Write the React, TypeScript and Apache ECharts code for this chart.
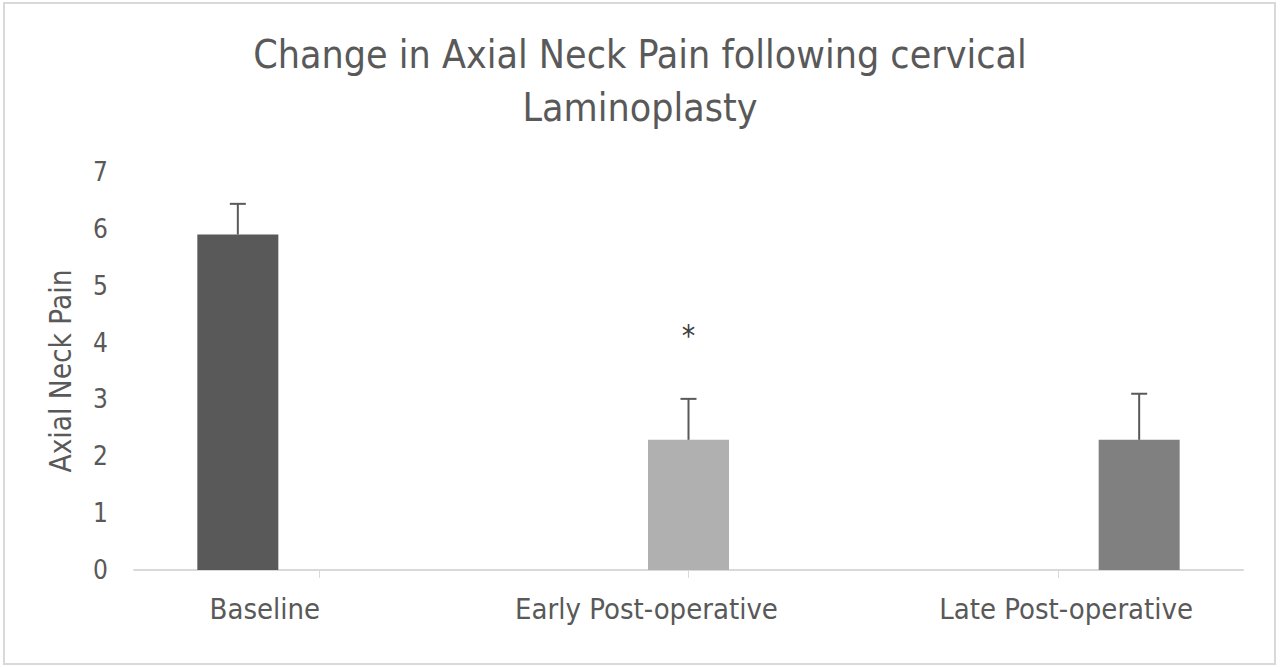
import React, { useEffect, useRef } from "react";
import * as echarts from "echarts";

const titleText = "Change in Axial Neck Pain following cervical\nLaminoplasty";
const yAxisName = "Axial Neck Pain";
const categories = ["Baseline", "Early Post-operative", "Late Post-operative"];
const meanValues = [5.9, 2.29, 2.29];
const errorValues = [0.54, 0.72, 0.81];
const barColors = ["#595959", "#b0b0b0", "#808080"];
const significanceMarks = ["", "*", ""];
const significanceY = 4.12;
const yTicks = { min: 0, max: 7, interval: 1 };

const FONT = "'Liberation Sans Narrow', 'DejaVu Sans Condensed', 'Open Sans', sans-serif";
const TEXT = "#595959";
const BAR_W = 81;
// horizontal nudges (px) of the category labels, as placed in the reference
const LABEL_SHIFT = [-54, -42, 8];

export default function App() {
  const ref = useRef<HTMLDivElement>(null);
  useEffect(() => {
    if (!ref.current) return;
    const chart = echarts.init(ref.current, null, { renderer: "svg" });
    const n = categories.length;
    const barSeries = categories.map((name, i) => ({
      name,
      type: "bar",
      barWidth: BAR_W,
      barGap: "0%",
      itemStyle: { color: barColors[i] },
      data: categories.map((_, j) => (j === i ? meanValues[i] : "-")),
      markPoint: significanceMarks[i]
        ? {
            symbol: "circle",
            symbolSize: 0,
            label: {
              show: true,
              position: "inside",
              formatter: significanceMarks[i],
              color: "#404040",
              fontSize: 30,
              fontFamily: FONT,
            },
            data: [{ coord: [i, significanceY] }],
          }
        : undefined,
    }));
    const errData = categories.map((_, i) => [i, meanValues[i], errorValues[i], i - (n - 1) / 2]);
    const rich: Record<string, any> = {};
    LABEL_SHIFT.forEach((s, i) => {
      rich["l" + i] = {
        color: TEXT,
        fontFamily: FONT,
        fontSize: 29,
        padding: s < 0 ? [0, -2 * s, 0, 0] : [0, 0, 0, 2 * s],
      };
    });
    chart.setOption({
      animation: false,
      backgroundColor: "#ffffff",
      title: {
        text: titleText,
        left: "center",
        top: 23,
        textStyle: {
          color: TEXT,
          fontFamily: FONT,
          fontWeight: "normal",
          fontSize: 39,
          lineHeight: 53,
        },
      },
      graphic: [
        {
          type: "rect",
          shape: { x: 4, y: 3, width: 1271, height: 661 },
          style: { fill: "none", stroke: "#d9d9d9", lineWidth: 2 },
          silent: true,
        },
      ],
      grid: { left: 134, right: 37, top: 172, bottom: 97 },
      xAxis: {
        type: "category",
        data: categories,
        axisLine: { lineStyle: { color: "#d9d9d9", width: 2 } },
        axisTick: { show: true, alignWithLabel: true, length: 8, lineStyle: { color: "#d9d9d9" } },
        axisLabel: {
          color: TEXT,
          fontFamily: FONT,
          fontSize: 29,
          margin: 24,
          interval: 0,
          formatter: (v: string, i: number) => `{l${i}|${v}}`,
          rich,
        },
      },
      yAxis: {
        type: "value",
        min: yTicks.min,
        max: yTicks.max,
        interval: yTicks.interval,
        name: yAxisName,
        nameLocation: "middle",
        nameGap: 58,
        nameRotate: 90,
        nameTextStyle: { color: TEXT, fontFamily: FONT, fontSize: 29.5 },
        axisLine: { show: false },
        axisTick: { show: false },
        splitLine: { show: false },
        axisLabel: { color: TEXT, fontFamily: FONT, fontSize: 26, margin: 26 },
      },
      series: [
        ...barSeries,
        {
          type: "custom",
          name: "error",
          data: errData,
          z: 5,
          renderItem: (params: any, api: any) => {
            const idx = api.value(0);
            const val = api.value(1);
            const err = api.value(2);
            const off = api.value(3);
            const base = api.coord([idx, val]);
            const top = api.coord([idx, val + err]);
            const x = base[0] + off * BAR_W;
            const style = { stroke: "#595959", lineWidth: 2 };
            return {
              type: "group",
              children: [
                { type: "line", shape: { x1: x, y1: base[1], x2: x, y2: top[1] }, style },
                { type: "line", shape: { x1: x - 8, y1: top[1], x2: x + 8, y2: top[1] }, style },
              ],
            };
          },
        },
      ],
    });
    return () => chart.dispose();
  }, []);
  return (
    <div
      ref={ref}
      style={{ position: "fixed", left: 0, top: 0, width: 1280, height: 667 }}
    />
  );
}
